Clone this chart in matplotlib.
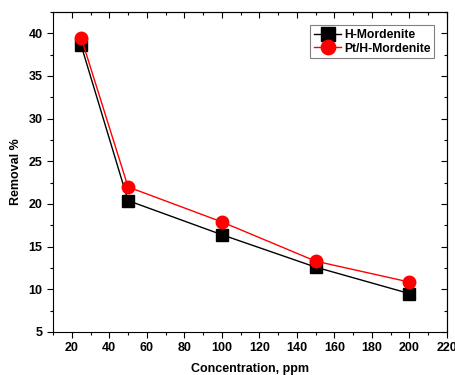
import matplotlib
matplotlib.use("Agg")
import matplotlib.pyplot as plt
from matplotlib.ticker import MultipleLocator

plt.rcParams['font.family'] = ['Liberation Sans', 'DejaVu Sans']
plt.rcParams['font.weight'] = 'bold'

conc = [25, 50, 100, 150, 200]
h_mord = [38.6, 20.4, 16.4, 12.6, 9.5]
pt_h_mord = [39.5, 22.0, 17.9, 13.3, 10.85]

fig = plt.figure(figsize=(4.56, 3.75), dpi=100)
ax = fig.add_axes([53/456, 1-332/375, (447-53)/456, (332-12)/375])

ax.plot(conc, h_mord, color='black', marker='s', markersize=9, lw=1, label='H-Mordenite')
ax.plot(conc, pt_h_mord, color='red', marker='o', markersize=9, lw=1, label='Pt/H-Mordenite')

ax.set_xlim(10, 220)
ax.set_ylim(5, 42.5)
ax.xaxis.set_major_locator(MultipleLocator(20))
ax.xaxis.set_minor_locator(MultipleLocator(10))
ax.yaxis.set_major_locator(MultipleLocator(5))
ax.yaxis.set_minor_locator(MultipleLocator(2.5))

ax.tick_params(which='both', labelsize=9, width=0.8)
ax.tick_params(which='major', length=4)
ax.tick_params(which='minor', length=2.5)
ax2 = ax.secondary_xaxis('top')
ax2.xaxis.set_major_locator(MultipleLocator(20))
ax2.xaxis.set_minor_locator(MultipleLocator(10))
ax2.tick_params(which='both', direction='in', labeltop=False, width=0.8)
ax2.tick_params(which='major', length=4)
ax2.tick_params(which='minor', length=2.5)
ay2 = ax.secondary_yaxis('right')
ay2.yaxis.set_major_locator(MultipleLocator(5))
ay2.yaxis.set_minor_locator(MultipleLocator(2.5))
ay2.tick_params(which='both', direction='in', labelright=False, width=0.8)
ay2.tick_params(which='major', length=4)
ay2.tick_params(which='minor', length=2.5)

for lbl in ax.get_xticklabels() + ax.get_yticklabels():
    lbl.set_fontweight('bold')

ax.set_xlabel('Concentration, ppm', fontsize=9, fontweight='bold', labelpad=6)
ax.set_ylabel('Removal %', fontsize=9, fontweight='bold', labelpad=5)

leg = ax.legend(loc='upper right', fontsize=8.7, fancybox=False, edgecolor='gray',
                framealpha=1, borderpad=0.3, handlelength=2.3, handletextpad=0.2,
                labelspacing=0.15, markerscale=1.15, borderaxespad=0,
                bbox_to_anchor=(0.967, 0.959))
leg.get_frame().set_linewidth(0.8)
for t in leg.get_texts():
    t.set_fontweight('bold')

fig.savefig('out.png', dpi=100)
